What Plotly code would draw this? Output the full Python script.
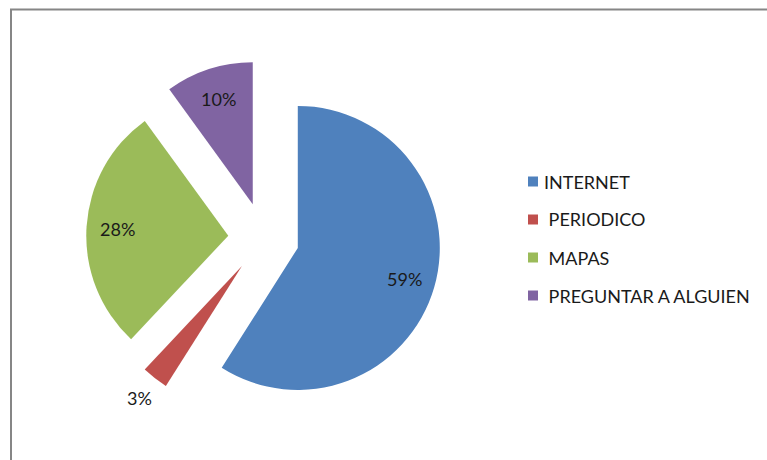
import math
import plotly.graph_objects as go

# Source data: how people find their way around
categories = ["INTERNET", " PERIODICO", " MAPAS", " PREGUNTAR A ALGUIEN"]
shares = [59, 3, 28, 10]
slice_colors = ["#4F81BD", "#C0504D", "#9BBB59", "#8064A2"]
label_outside = [False, True, False, False]

W, H = 767, 460
FONT = "Lato"
PULL = 0.25

# Pie box (pixels): centre and half-size of the domain square
CX, CY, HALF = 263.7, 238.0, 177.5
R = HALF / (1 + PULL)


def px_x(x):
    return x / W


def px_y(y):
    return 1 - y / H


fig = go.Figure()

fig.add_trace(go.Pie(
    labels=[c.strip() for c in categories],
    values=shares,
    sort=False,
    direction="clockwise",
    rotation=0,
    pull=[PULL] * len(shares),
    marker=dict(colors=slice_colors, line=dict(width=0)),
    textinfo="none",
    domain=dict(x=[px_x(CX - HALF), px_x(CX + HALF)],
                y=[px_y(CY + HALF), px_y(CY - HALF)]),
    showlegend=False,
    hoverinfo="label+percent",
))

# Percentage labels placed along each slice's mid-angle
total = sum(shares)
start = 0.0
for v, outside in zip(shares, label_outside):
    mid = (start + v / 2) / total * 2 * math.pi
    start += v
    dx, dy = math.sin(mid), -math.cos(mid)
    dist = R * PULL + R * (1.18 if outside else 0.78)
    fig.add_annotation(
        xref="paper", yref="paper",
        x=px_x(CX + dx * dist), y=px_y(CY + dy * dist),
        xanchor="center", yanchor="middle", showarrow=False,
        text=f"{round(v / total * 100)}%",
        font=dict(family=FONT, size=18, color="#1a1a1a"),
    )

# Legend drawn as square swatches with labels beside them
legend_top = 181.5
legend_step = 38
for i, (name, color) in enumerate(zip(categories, slice_colors)):
    yc = legend_top + i * legend_step
    fig.add_shape(
        type="rect", xref="paper", yref="paper",
        x0=px_x(528), x1=px_x(538), y0=px_y(yc + 5), y1=px_y(yc - 5),
        fillcolor=color, line=dict(width=0),
    )
    fig.add_annotation(
        xref="paper", yref="paper", x=px_x(542), y=px_y(yc),
        xanchor="left", yanchor="middle", showarrow=False,
        text=name.replace(" ", "\u00a0", 1) if name.startswith(" ") else name,
        font=dict(family=FONT, size=18, color="#1a1a1a"),
    )

# Chart frame
fig.add_shape(
    type="rect", xref="paper", yref="paper",
    x0=px_x(11), x1=px_x(W + 20), y0=px_y(H + 20), y1=px_y(9.5),
    line=dict(color="#868686", width=2), fillcolor="rgba(0,0,0,0)",
)

fig.update_layout(
    width=W, height=H,
    margin=dict(l=0, r=0, t=0, b=0),
    paper_bgcolor="#FFFFFF",
    plot_bgcolor="#FFFFFF",
)

fig.write_html("out.html")
